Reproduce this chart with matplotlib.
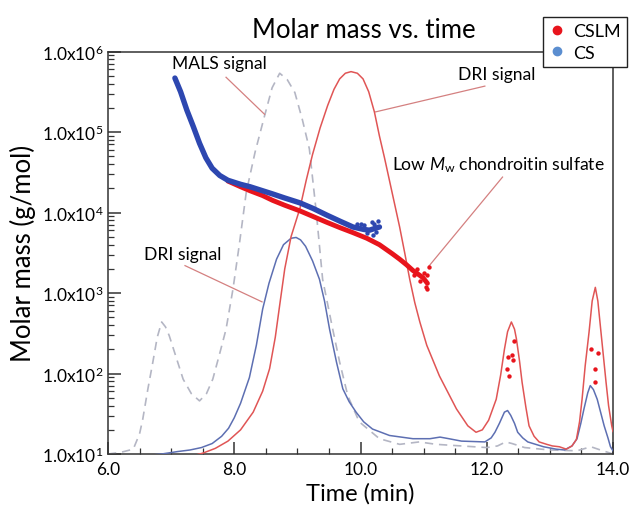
import numpy as np
import matplotlib
matplotlib.use("Agg")
import matplotlib.pyplot as plt
from matplotlib.ticker import MultipleLocator, LogLocator, FixedLocator, NullFormatter
from matplotlib.lines import Line2D

plt.rcParams['font.family'] = ['Lato', 'DejaVu Sans']
plt.rcParams['mathtext.fontset'] = 'custom'
plt.rcParams['mathtext.rm'] = 'Lato'
plt.rcParams['mathtext.it'] = 'Lato:italic'

# ---- molar mass data (time in min, log10 of molar mass) ----
cs_t = [7.06, 7.15, 7.25, 7.35, 7.45, 7.55, 7.65, 7.77, 7.90, 8.10, 8.25, 8.45, 8.61, 8.80,
        9.04, 9.25, 9.46, 9.68, 9.88, 10.05, 10.14, 10.22, 10.30]
cs_logM = [5.67, 5.50, 5.27, 5.07, 4.86, 4.68, 4.55, 4.46, 4.40, 4.35, 4.32, 4.27, 4.23, 4.18,
           4.12, 4.05, 3.97, 3.89, 3.82, 3.79, 3.78, 3.80, 3.82]
cs_noise_t = [9.95, 10.00, 10.10, 10.18, 10.20, 10.25, 10.28, 10.05, 10.22]
cs_noise_logM = [3.86, 3.86, 3.74, 3.88, 3.72, 3.76, 3.90, 3.84, 3.86]

cslm_t = [7.90, 8.10, 8.25, 8.45, 8.61, 8.80, 9.04, 9.25, 9.46, 9.68, 9.88, 10.10, 10.30,
          10.50, 10.62, 10.73, 10.83, 10.92, 10.99, 11.06]
cslm_logM = [4.39, 4.32, 4.27, 4.21, 4.15, 4.09, 4.02, 3.95, 3.88, 3.81, 3.75, 3.68, 3.60,
             3.49, 3.42, 3.35, 3.28, 3.23, 3.19, 3.12]
cslm_noise_t = [10.90, 10.95, 11.00, 11.03, 11.06, 11.08, 11.05, 10.85]
cslm_noise_logM = [3.30, 3.15, 3.25, 3.08, 3.22, 3.32, 3.05, 3.22]

cslm_peak_t = [12.43, 12.33, 12.40, 12.41, 12.32, 12.36, 13.65, 13.76, 13.71, 13.71]
cslm_peak_logM = [2.40, 2.21, 2.23, 2.17, 2.06, 1.97, 2.30, 2.26, 2.06, 1.90]

# ---- detector signals (drawn on the same log axis) ----
dri_cslm_t = [7.30, 7.50, 7.70, 7.90, 8.10, 8.30, 8.45, 8.56, 8.65, 8.72, 8.80, 8.90, 9.04, 9.14,
              9.24, 9.36, 9.48, 9.58, 9.67, 9.76, 9.85, 9.95, 10.04, 10.13, 10.22, 10.30, 10.38,
              10.50, 10.62, 10.70, 10.78, 10.86, 10.94, 11.05, 11.25, 11.52, 11.70, 11.83, 11.93,
              12.03, 12.15, 12.22, 12.28, 12.33, 12.39, 12.44, 12.47, 12.52, 12.56, 12.62, 12.67,
              12.75, 12.83, 12.95, 13.04, 13.15, 13.26, 13.35, 13.42, 13.47, 13.51, 13.56, 13.62,
              13.67, 13.72, 13.76, 13.81, 13.85, 13.89, 13.93, 13.98, 14.00]
dri_cslm_log = [0.97, 1.01, 1.07, 1.16, 1.30, 1.52, 1.78, 2.06, 2.45, 2.85, 3.30, 3.70, 4.05, 4.40,
                4.72, 5.05, 5.33, 5.53, 5.66, 5.73, 5.75, 5.73, 5.66, 5.50, 5.25, 4.95, 4.68,
                4.25, 3.82, 3.50, 3.17, 2.88, 2.64, 2.35, 1.97, 1.56, 1.35, 1.27, 1.30,
                1.42, 1.68, 1.98, 2.30, 2.52, 2.64, 2.55, 2.43, 2.15, 1.89, 1.58, 1.35,
                1.22, 1.15, 1.12, 1.10, 1.09, 1.06, 1.10, 1.18, 1.40, 1.68, 2.10, 2.51,
                2.90, 3.07, 2.90, 2.51, 2.20, 1.89, 1.60, 1.35, 1.28]

dri_cs_t = [6.60, 6.85, 7.10, 7.30, 7.48, 7.65, 7.80, 7.91, 8.00, 8.10, 8.24, 8.35, 8.45, 8.55,
            8.67, 8.78, 8.90, 8.98, 9.05, 9.13, 9.24, 9.35, 9.43, 9.51, 9.62, 9.72, 9.82, 9.93,
            10.05, 10.19, 10.46, 10.83, 11.10, 11.26, 11.40, 11.60, 11.97, 12.07, 12.13, 12.20,
            12.28, 12.33, 12.38, 12.44, 12.49, 12.57, 12.65, 12.90, 13.10, 13.23, 13.35, 13.43,
            13.49, 13.54, 13.60, 13.64, 13.69, 13.75, 13.81, 13.86, 13.92, 13.96, 14.00]
dri_cs_log = [0.98, 1.00, 1.03, 1.05, 1.08, 1.13, 1.22, 1.32, 1.45, 1.63, 1.95, 2.35, 2.80, 3.12,
              3.42, 3.60, 3.68, 3.69, 3.66, 3.58, 3.40, 3.17, 2.90, 2.55, 2.14, 1.81, 1.65, 1.52,
              1.40, 1.31, 1.23, 1.19, 1.19, 1.21, 1.19, 1.16, 1.15, 1.20, 1.27, 1.38,
              1.52, 1.54, 1.48, 1.38, 1.27, 1.20, 1.15, 1.09, 1.06, 1.05, 1.10, 1.19,
              1.38, 1.56, 1.76, 1.85, 1.80, 1.68, 1.50, 1.35, 1.20, 1.09, 1.04]

mals_t = [6.00, 6.20, 6.40, 6.50, 6.55, 6.63, 6.71, 6.78, 6.85, 6.91, 6.97, 7.08, 7.19, 7.32,
          7.45, 7.56, 7.66, 7.77, 7.87, 7.98, 8.08, 8.19, 8.33, 8.48, 8.60, 8.72, 8.84, 8.96,
          9.08, 9.19, 9.30, 9.40, 9.56, 9.67, 9.80, 9.98, 10.30, 10.62, 10.93, 11.20, 11.60,
          12.00, 12.17, 12.30, 12.40, 12.60, 13.00, 13.43, 13.65, 13.80, 14.00]
mals_log = [1.00, 1.02, 1.06, 1.25, 1.43, 1.80, 2.14, 2.45, 2.64, 2.58, 2.47, 2.20, 1.93, 1.75,
            1.66, 1.75, 1.93, 2.25, 2.55, 3.05, 3.60, 4.25, 4.75, 5.20, 5.55, 5.73, 5.65, 5.49,
            5.15, 4.79, 4.00, 3.17, 2.55, 2.14, 1.72, 1.40, 1.19, 1.12, 1.15, 1.12, 1.10,
            1.08, 1.10, 1.15, 1.13, 1.08, 1.05, 1.04, 1.09, 1.05, 1.00]

x_ticks = [6.0, 8.0, 10.0, 12.0, 14.0]
x_ticklabels = ["6.0", "8.0", "10.0", "12.0", "14.0"]
y_exponents = [1, 2, 3, 4, 5, 6]

RED = '#e8141c'
BLUE = '#2d47b0'
DRI_RED = '#e05555'
DRI_BLUE = '#5d6fb2'
MALS = '#b4b6c4'
ANN = '#d48080'


def M(v):
    return 10 ** np.asarray(v, dtype=float)


fig = plt.figure(figsize=(6.31, 5.10), dpi=100)
ax = fig.add_axes([108 / 631, 1 - 455 / 510, (613 - 108) / 631, (455 - 52.5) / 510])
ax.set_yscale('log')
ax.set_xlim(6.0, 14.0)
ax.set_ylim(10, 1e6)

# detector signals
ax.plot(mals_t, M(mals_log), color=MALS, lw=1.2, ls=(0, (5, 3.5)), zorder=2)
ax.plot(dri_cs_t, M(dri_cs_log), color=DRI_BLUE, lw=1.1, zorder=3)
ax.plot(dri_cslm_t, M(dri_cslm_log), color=DRI_RED, lw=1.1, zorder=3)

# molar mass data
ax.plot(cslm_t, M(cslm_logM), color=RED, lw=3.5, solid_capstyle='round', zorder=4)
ax.scatter(cslm_noise_t, M(cslm_noise_logM), s=10, color=RED, zorder=4, linewidths=0)
ax.plot(cs_t, M(cs_logM), color=BLUE, lw=3.9, solid_capstyle='round', zorder=5)
ax.scatter(cs_noise_t, M(cs_noise_logM), s=10, color=BLUE, zorder=5, linewidths=0)
ax.scatter(cslm_peak_t, M(cslm_peak_logM), s=10, color=RED, zorder=5, linewidths=0)

# annotations
fs_ann = 12.6
ax.text(7.77, M(5.86), "MALS signal", ha='center', va='center', fontsize=fs_ann)
ax.plot([7.87, 8.48], M([5.68, 5.22]), color=ANN, lw=0.9)
ax.text(12.16, M(5.72), "DRI signal", ha='center', va='center', fontsize=fs_ann)
ax.plot([11.97, 10.24], M([5.57, 5.25]), color=ANN, lw=0.9)
ax.text(12.19, M(4.60), r"Low $\mathit{M}_{\mathrm{w}}$ chondroitin sulfate", ha='center', va='center',
        fontsize=fs_ann)
ax.plot([12.25, 11.09], M([4.44, 3.34]), color=ANN, lw=0.9)
ax.text(7.19, M(3.48), "DRI signal", ha='center', va='center', fontsize=fs_ann)
ax.plot([7.22, 8.44], M([3.34, 2.89]), color=ANN, lw=0.9)

# axes styling
for s in ax.spines.values():
    s.set_color('#333333')
    s.set_linewidth(1.1)
ax.set_xticks(x_ticks)
ax.set_xticklabels(x_ticklabels)
ax.xaxis.set_minor_locator(MultipleLocator(0.5))
ax.yaxis.set_major_locator(FixedLocator([10.0 ** e for e in y_exponents]))
ax.set_yticklabels([r"1.0x10$^{%d}$" % e for e in y_exponents])
ax.yaxis.set_minor_locator(LogLocator(base=10, subs=np.arange(2, 10)))
ax.yaxis.set_minor_formatter(NullFormatter())
ax.tick_params(which='major', direction='in', length=9, width=1.1, color='#333333',
               labelsize=12.5, pad=3)
ax.tick_params(which='minor', direction='in', length=4.5, width=0.9, color='#333333')
ax.tick_params(axis='x', which='major', pad=5)

ax.set_xlabel("Time (min)", fontsize=17, labelpad=4)
ax.set_ylabel("Molar mass (g/mol)", fontsize=18.5, labelpad=4)
fig.text(364 / 631, 1 - 30 / 510, "Molar mass vs. time", ha='center', va='center', fontsize=18.5)

handles = [Line2D([], [], ls='none', marker='o', ms=6, color=RED, label='CSLM'),
           Line2D([], [], ls='none', marker='o', ms=6, color='#5b8ed0', label='CS')]
leg = fig.legend(handles=handles, loc='upper right', bbox_to_anchor=(627 / 631, 1 - 18 / 510),
                 frameon=True, fancybox=False, framealpha=1, edgecolor='#222222',
                 fontsize=13, handlelength=0.8, handletextpad=0.5, borderpad=0.35,
                 labelspacing=0.3, borderaxespad=0)
leg.get_frame().set_linewidth(1.0)

fig.savefig("out.png", dpi=100)
